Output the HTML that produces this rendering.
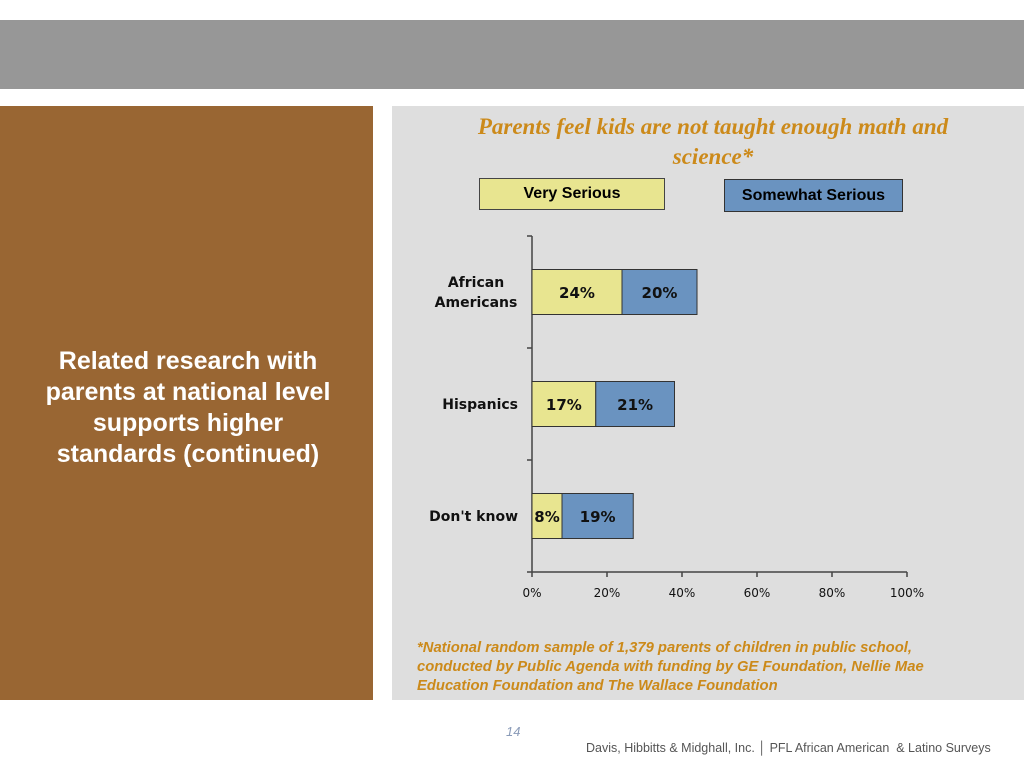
<!DOCTYPE html>
<html><head><meta charset="utf-8"><style>
body{margin:0;width:1024px;height:768px;background:#fff;position:relative;overflow:hidden;font-family:"Liberation Sans",sans-serif}
.abs{position:absolute}
</style></head><body>
<div class="abs" style="left:0;top:20px;width:1024px;height:69px;background:#979797"></div>
<div class="abs" style="left:0;top:106px;width:373px;height:594px;background:#996633"></div>
<div class="abs" style="left:10px;top:346px;width:356px;text-align:center;color:#fff;font-weight:bold;font-size:25px;line-height:31px">Related research with<br>parents at national level<br>supports higher<br>standards (continued)</div>
<div class="abs" style="left:392px;top:106px;width:632px;height:594px;background:#dedede"></div>
<div class="abs" style="left:440px;top:112px;width:546px;text-align:center;color:#cc8a1a;font-family:'Liberation Serif',serif;font-style:italic;font-weight:bold;font-size:23px;line-height:30px">Parents feel kids are not taught enough math and science*</div>
<div class="abs" style="left:479px;top:178px;width:186px;height:32px;background:#e8e590;border:1px solid #444;box-sizing:border-box;text-align:center;font-weight:bold;font-size:16px;line-height:30px">Very Serious</div>
<div class="abs" style="left:724px;top:179px;width:179px;height:33px;background:#6a93c0;border:1px solid #333;box-sizing:border-box;text-align:center;font-weight:bold;font-size:16px;line-height:31px">Somewhat Serious</div>
<svg class="abs" style="left:0;top:0" width="1024" height="768" id="chart"></svg>
<div class="abs" style="left:417px;top:639px;width:590px;color:#cc8a1a;font-style:italic;font-weight:bold;font-size:14.8px;line-height:19px">*National random sample of 1,379 parents of children in public school,<br>conducted by Public Agenda with funding by GE Foundation, Nellie Mae<br>Education Foundation and The Wallace Foundation</div>
<div class="abs" style="left:506px;top:724px;color:#8a9bb8;font-style:italic;font-size:13px">14</div>
<div class="abs" style="left:586px;top:741px;color:#555;font-size:12.5px">Davis, Hibbitts &amp; Midghall, Inc. │ PFL African American &nbsp;&amp; Latino Surveys</div>
<script>
const categories=["African Americans","Hispanics","Don't know"];
const verySerious=[24,17,8];
const somewhatSerious=[20,21,19];
const tickLabels=["0%","20%","40%","60%","80%","100%"];
const tickValues=[0,20,40,60,80,100];
const svg=document.getElementById('chart');
const NS='http://www.w3.org/2000/svg';
const X0=532,X1=907,Y0=236,Y1=572;
const xs=v=>X0+(X1-X0)*v/100;
const band=(Y1-Y0)/categories.length;
function mk(t,a){const e=document.createElementNS(NS,t);for(const k in a)e.setAttribute(k,a[k]);svg.appendChild(e);return e;}
let ax=mk('line',{x1:X0,y1:Y0,x2:X0,y2:Y1,stroke:'#444','stroke-width':1.5});


for(let i=0;i<=categories.length;i++){const y=Y0+i*band;mk('line',{x1:X0-5,y1:y,x2:X0,y2:y,stroke:'#444','stroke-width':1.5});}
let xa=mk('line',{x1:X0,y1:Y1,x2:X1,y2:Y1,stroke:'#444','stroke-width':1.5});


tickValues.forEach((v,i)=>{const x=xs(v);mk('line',{x1:x,y1:Y1,x2:x,y2:Y1+5,stroke:'#444','stroke-width':1.5});
const t=mk('text',{x:x,y:Y1+25,'text-anchor':'middle','font-size':12,'font-family':'DejaVu Sans, sans-serif',fill:'#111'});t.textContent=tickLabels[i];

});
categories.forEach((c,i)=>{const cy=Y0+band*(i+0.5);const h=45,y=cy-h/2;
const v1=verySerious[i],v2=somewhatSerious[i];
const r1=mk('rect',{x:xs(0),y:y,width:xs(v1)-xs(0),height:h,fill:'#e8e590',stroke:'#333','stroke-width':1});


const r2=mk('rect',{x:xs(v1),y:y,width:xs(v1+v2)-xs(v1),height:h,fill:'#6a93c0',stroke:'#333','stroke-width':1});


const f={'font-size':15,'font-weight':'bold','font-family':'DejaVu Sans, sans-serif',fill:'#111','text-anchor':'middle'};
let t=mk('text',Object.assign({x:(xs(0)+xs(v1))/2,y:cy+6},f));t.textContent=v1+'%';


t=mk('text',Object.assign({x:(xs(v1)+xs(v1+v2))/2,y:cy+6},f));t.textContent=v2+'%';


const words=c==="African Americans"?["African","Americans"]:[c];
words.forEach((w,j)=>{const l=mk('text',{x:X0-14,y:cy+5+(j-(words.length-1)/2)*20,'text-anchor':words.length>1?'middle':'end','font-size':14,'font-weight':'bold','font-family':'DejaVu Sans, sans-serif',fill:'#111'});
if(words.length>1)l.setAttribute('x',X0-56);
l.textContent=w;

});
});
</script>
</body></html>
